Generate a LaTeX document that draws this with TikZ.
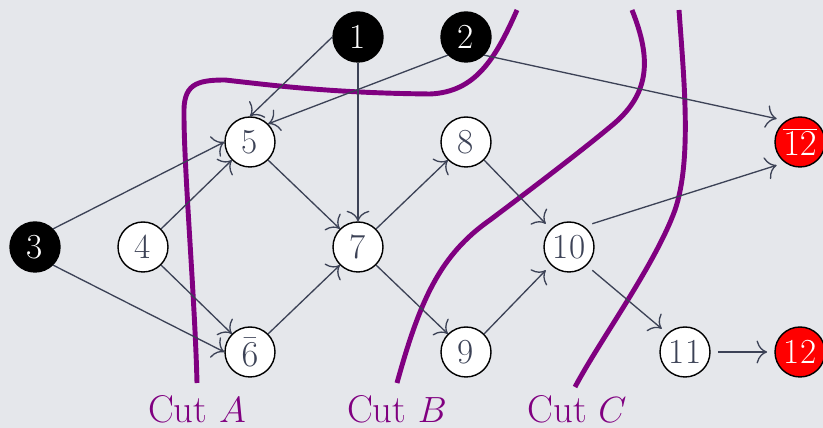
\documentclass[tikz,border=0pt]{standalone}
\usetikzlibrary{arrows.meta}
\definecolor{PageGray}{RGB}{229,231,235}
\definecolor{EdgeSlate}{RGB}{60,66,86}
\definecolor{CutPurple}{RGB}{128,0,128}

\begin{document}
\begin{tikzpicture}[x=0.02cm, y=-0.02cm,
    vtx/.style={circle, draw=black, line width=0.8pt, fill=white, text=EdgeSlate,
        minimum size=1cm, inner sep=0pt, font=\fontsize{20}{24}\selectfont},
    src/.style={vtx, fill=black, text=white},
    snk/.style={vtx, fill=red, text=white, outer sep=4.5pt},
    far/.style={vtx, outer sep=4.5pt},
    arc/.style={draw=EdgeSlate, line width=0.75pt, -{To[length=6pt,width=13pt]}},
    cut/.style={draw=CutPurple, line width=2.8pt},
    cutlabel/.style={text=CutPurple, font=\fontsize{22}{26}\selectfont}]

\fill[PageGray] (0,0) rectangle (823,428);
\useasboundingbox (0,0) rectangle (823,428);

% the three cuts
\draw[cut] (197,383) .. controls (195,300) and (184,170) .. (184,115)
    .. controls (183,85) and (195,80) .. (225,80)
    .. controls (270,85) and (330,93) .. (430,94)
    .. controls (475,92) and (495,60) .. (517,10);
\draw[cut] (397,383) .. controls (420,300) and (440,255) .. (490,220)
    .. controls (530,190) and (580,152) .. (610,127)
    .. controls (650,95) and (652,60) .. (632,10);
\draw[cut] (679,10) .. controls (684,80) and (692,160) .. (675,210)
    .. controls (655,265) and (600,340) .. (575,387);

\node[cutlabel] (cutA) at (197,409) {Cut $A$};
\node[cutlabel] (cutB) at (397,409) {Cut $B$};
\node[cutlabel] (cutC) at (577,409) {Cut $C$};

% vertices
\node[src] (n1) at (358,37) {1};
\node[src] (n2) at (466,37) {2};
\node[src] (n3) at (35,247) {3};
\node[vtx] (n4) at (143,247) {4};
\node[vtx] (n5) at (250,142) {5};
\node[vtx] (n6) at (250,352) {$\bar{6}$};
\node[vtx] (n7) at (358,247) {7};
\node[vtx] (n8) at (466,142) {8};
\node[vtx] (n9) at (466,352) {9};
\node[far] (n10) at (569,247) {10};
\node[far] (n11) at (685,352) {11};
\node[snk] (n12b) at (800,142) {$\overline{12}$};
\node[snk] (n12) at (800,352) {12};

% arcs
\draw[arc] (n1.west) -- (n5.north);
\draw[arc] (n1.south) -- (n7.north);
\draw[arc] (n2.south west) -- (n5.north east);
\draw[arc] (n2.south east) -- (n12b.north west);
\draw[arc] (n3.north east) -- (n5.west);
\draw[arc] (n3.south east) -- (n6.west);
\draw[arc] (n4.north east) -- (n5.south west);
\draw[arc] (n4.south east) -- (n6.north west);
\draw[arc] (n5.south east) -- (n7.north west);
\draw[arc] (n6.north east) -- (n7.south west);
\draw[arc] (n7.north east) -- (n8.south west);
\draw[arc] (n7.south east) -- (n9.north west);
\draw[arc] (n8.south east) -- (n10.north west);
\draw[arc] (n9.north east) -- (n10.south west);
\draw[arc] (n10.north east) -- (n12b.south west);
\draw[arc] (n10.south east) -- (n11.north west);
\draw[arc] (n11.east) -- (n12.west);

\end{tikzpicture}
\end{document}
